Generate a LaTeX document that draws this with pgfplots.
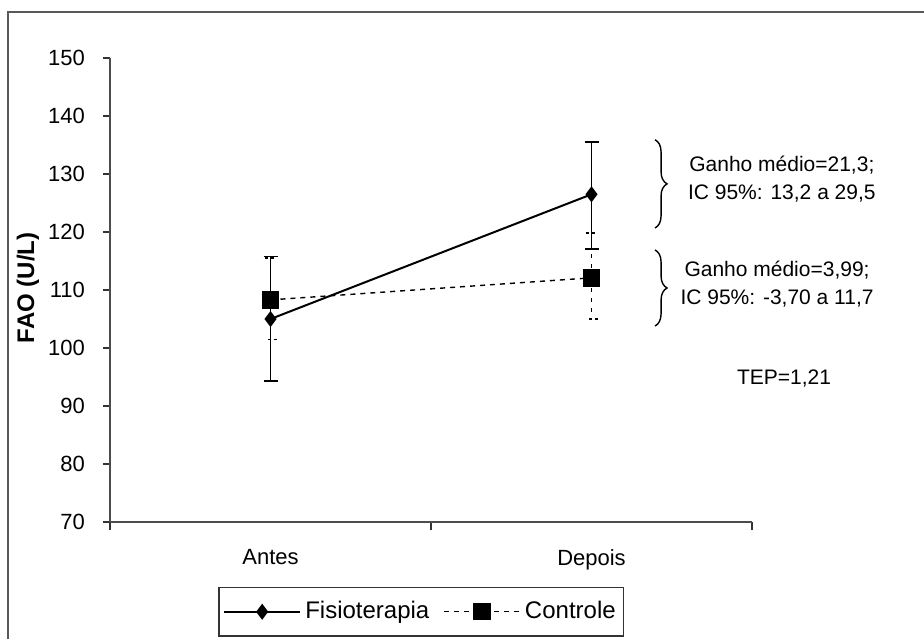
\documentclass[border=0pt]{standalone}
\usepackage{fontspec}
\setmainfont{Liberation Sans}
\usepackage{pgfplots}
\pgfplotsset{compat=1.18}
\usetikzlibrary{decorations.pathreplacing}
\begin{document}
\begin{tikzpicture}
\useasboundingbox (-55pt,-58.5pt) rectangle (407pt,261pt);
\draw[black!65, line width=0.7pt] (-51pt,-58.5pt) -- (-51pt,255pt) -- (407pt,255pt);
\begin{axis}[
  at={(0pt,0pt)}, anchor=south west,
  scale only axis, width=321pt, height=232pt,
  xmin=0.5, xmax=2.5, ymin=70, ymax=150,
  axis x line=bottom, axis y line=left,
  axis line style={-, draw=black!70, line width=0.6pt},
  tick align=outside,
  xtick={1,2}, xticklabels={Antes,Depois},
  major x tick style={draw=none},
  minor xtick={0.5,1.5,2.5}, minor tick length=4pt,
  minor x tick style={draw=black!80, line width=0.6pt},
  ytick={70,80,...,150}, major tick length=3.5pt,
  major y tick style={draw=black!80, line width=0.6pt},
  xticklabel style={yshift=-6.5pt, font=\fontsize{11}{13}\selectfont},
  yticklabel style={xshift=-5.5pt, font=\fontsize{11}{13}\selectfont},
  clip=false,
  font=\fontsize{10.5}{14}\selectfont,
  /pgf/number format/assume math mode=true,
  ylabel={\bfseries FAO (U/L)},
  ylabel style={at={(axis description cs:-0.1277,0.505)}, anchor=center, font=\fontsize{12}{14}\selectfont},
  legend columns=2,
  legend style={at={(0.485,-0.140)}, anchor=north, draw=black!80, line width=0.6pt,
    font=\fontsize{12}{14}\selectfont, inner xsep=2pt, inner ysep=5pt,
    /tikz/every even column/.append style={column sep=5pt}},
  legend image code/.code={\draw[mark repeat=2,mark phase=2] plot coordinates {(0cm,0cm)(0.67cm,0cm)(1.34cm,0cm)};},
]
\addplot[black, line width=1pt, mark=diamond*, mark size=3.2pt, mark options={solid},
  error bars/.cd, y dir=both, y explicit,
  error bar style={line width=0.8pt, solid},
  error mark options={rotate=90, mark size=3.5pt, line width=0.8pt}]
  coordinates {(1,105) +=(0,10.8) -=(0,10.7) (2,126.5) +=(0,9.0) -=(0,9.4)};
\addlegendentry{Fisioterapia}
\addplot[black, line width=0.7pt, dash pattern=on 2.5pt off 2.5pt, mark=square*, mark size=4pt, mark options={solid},
  error bars/.cd, y dir=both, y explicit,
  error bar style={line width=0.8pt, dash pattern=on 2pt off 3pt},
  error mark options={rotate=90, mark size=3pt, line width=0.8pt, dash pattern=on 1.5pt off 1.5pt}]
  coordinates {(1,108.3) +=(0,7.2) -=(0,6.8) (2,112.1) +=(0,7.7) -=(0,7.1)};
\addlegendentry{Controle}
\draw[decorate, decoration={brace, amplitude=6pt}, line width=0.7pt] (axis cs:2.198,135.9) -- (axis cs:2.198,120.7);
\draw[decorate, decoration={brace, amplitude=6pt}, line width=0.7pt] (axis cs:2.198,116.9) -- (axis cs:2.198,103.8);
\node[align=center, font=\fontsize{10.5}{14}\selectfont] at (axis cs:2.593,129.1) {Ganho médio=21,3;\\IC 95\%: 13,2 a 29,5};
\node[align=center, font=\fontsize{10.5}{14}\selectfont] at (axis cs:2.578,111.1) {Ganho médio=3,99;\\IC 95\%: -3,70 a 11,7};
\node[font=\fontsize{10.5}{14}\selectfont] at (axis cs:2.60,94.8) {TEP=1,21};
\end{axis}
\end{tikzpicture}
\end{document}
